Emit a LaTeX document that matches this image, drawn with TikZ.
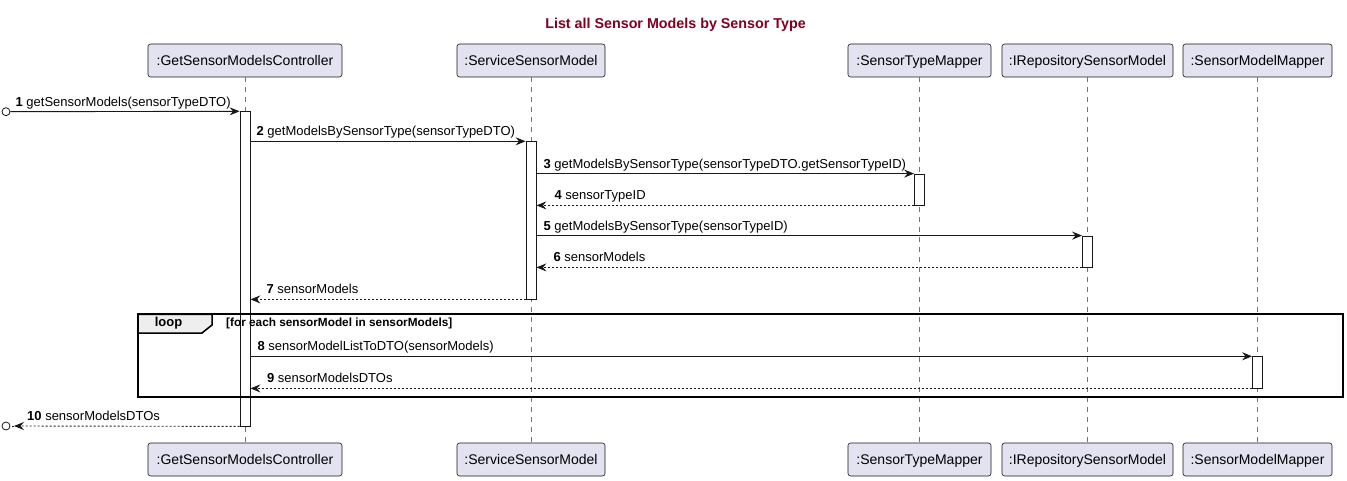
\documentclass[tikz,border=0pt]{standalone}
\usepackage{fontspec}
\setmainfont{Liberation Sans}
\usetikzlibrary{arrows.meta}
\definecolor{partfill}{HTML}{E2E2F0}
\definecolor{linec}{HTML}{181818}
\definecolor{titlec}{HTML}{800020}
\definecolor{tabfill}{HTML}{EEEEEE}
\begin{document}
\begin{tikzpicture}[x=1pt,y=-1pt,
 part/.style={draw=linec, line width=0.6pt, fill=partfill, rounded corners=2.5pt, minimum height=33pt, inner sep=0pt, text height=10pt, text depth=0pt, font=\fontsize{14}{16}\selectfont},
 life/.style={draw=linec!60, line width=0.7pt, dash pattern=on 5pt off 5pt},
 act/.style={draw=linec, line width=0.8pt, fill=white, minimum width=10pt, inner sep=0pt},
 msg/.style={draw=linec, line width=0.9pt, -{Stealth[length=10pt,width=8pt,inset=3.5pt]}},
 ret/.style={msg, dash pattern=on 2pt off 2pt},
 lbl/.style={font=\fontsize{13}{15}\selectfont, anchor=base west, inner sep=0pt},
 endpt/.style={circle, draw=linec, line width=0.8pt, fill=white, minimum size=8pt, inner sep=0pt},
 framebox/.style={draw=black, line width=2pt}
]
\useasboundingbox (0,0) rectangle (1347,481);

% title
\node[font=\fontsize{14.3}{16}\selectfont\bfseries, text=titlec, inner sep=0pt] (title) at (675.5,25) {List all Sensor Models by Sensor Type};

% participants (top and bottom)
\node[part, minimum width=194pt] (A) at (245,60.5) {:GetSensorModelsController};
\node[part, minimum width=148pt] (B) at (531,60.5) {:ServiceSensorModel};
\node[part, minimum width=143pt] (C) at (919.5,60.5) {:SensorTypeMapper};
\node[part, minimum width=171pt] (D) at (1087.5,60.5) {:IRepositorySensorModel};
\node[part, minimum width=149pt] (E) at (1257.5,60.5) {:SensorModelMapper};
\node[part, minimum width=194pt] (Ab) at (245,459.5) {:GetSensorModelsController};
\node[part, minimum width=148pt] (Bb) at (531,459.5) {:ServiceSensorModel};
\node[part, minimum width=143pt] (Cb) at (919.5,459.5) {:SensorTypeMapper};
\node[part, minimum width=171pt] (Db) at (1087.5,459.5) {:IRepositorySensorModel};
\node[part, minimum width=149pt] (Eb) at (1257.5,459.5) {:SensorModelMapper};

% lifelines
\draw[life] (A.south) -- (Ab.north);
\draw[life] (B.south) -- (Bb.north);
\draw[life] (C.south) -- (Cb.north);
\draw[life] (D.south) -- (Db.north);
\draw[life] (E.south) -- (Eb.north);

% activation bars
\node[act, minimum height=314.3pt] (actA) at (245,268.85) {};
\node[act, minimum height=157.3pt] (actB) at (531,220.35) {};
\node[act, minimum height=31pt] (actC) at (919.5,189.5) {};
\node[act, minimum height=31pt] (actD) at (1087.5,251.5) {};
\node[act, minimum height=31.3pt] (actE) at (1257.5,372.35) {};

% found / lost message end points
\node[endpt] (c1) at (6,111.7) {};
\node[endpt] (c2) at (6,426) {};
\coordinate (c2tip) at (14,426);

% messages
\draw[msg] (c1.east) coordinate (m1s) -- (actA.north west);
\node[lbl] at ([shift={(5,-5.5)}]m1s) {\textbf{1} getSensorModels(sensorTypeDTO)};

\draw[msg] (actA.east |- actB.north) coordinate (m2s) -- (actB.north west);
\node[lbl] at ([shift={(6,-5.5)}]m2s) {\textbf{2} getModelsBySensorType(sensorTypeDTO)};

\draw[msg] (actB.east |- actC.north) coordinate (m3s) -- (actC.north west);
\node[lbl] at ([shift={(7,-5.5)}]m3s) {\textbf{3} getModelsBySensorType(sensorTypeDTO.getSensorTypeID)};

\draw[ret] (actC.south west) -- (actB.east |- actC.south) coordinate (m4e);
\node[lbl] at ([shift={(18,-5.5)}]m4e) {\textbf{4} sensorTypeID};

\draw[msg] (actB.east |- actD.north) coordinate (m5s) -- (actD.north west);
\node[lbl] at ([shift={(7,-5.5)}]m5s) {\textbf{5} getModelsBySensorType(sensorTypeID)};

\draw[ret] (actD.south west) -- (actB.east |- actD.south) coordinate (m6e);
\node[lbl] at ([shift={(17,-5.5)}]m6e) {\textbf{6} sensorModels};

\draw[ret] (actB.south west) -- (actA.east |- actB.south) coordinate (m7e);
\node[lbl] at ([shift={(16,-5.5)}]m7e) {\textbf{7} sensorModels};

\draw[msg] (actA.east |- actE.north) coordinate (m8s) -- (actE.north west);
\node[lbl] at ([shift={(7,-5.5)}]m8s) {\textbf{8} sensorModelListToDTO(sensorModels)};

\draw[ret] (actE.south west) -- (actA.east |- actE.south) coordinate (m9e);
\node[lbl] at ([shift={(16.5,-5.5)}]m9e) {\textbf{9} sensorModelsDTOs};

\draw[ret] (actA.south west) -- (c2tip);
\draw[draw=linec, line width=0.9pt, dash pattern=on 2pt off 2pt] (c2tip) -- (c2.east);
\node[lbl] at ([shift={(13,-5.5)}]c2tip) {\textbf{10} sensorModelsDTOs};

% loop frame
\draw[framebox] (138,314.3) rectangle (1342.5,396.7);
\draw[framebox, line width=1.5pt, fill=tabfill] (138,314.3) -- (212,314.3) -- (212,325) -- (202,333) -- (138,333) -- cycle;
\node[font=\fontsize{13}{15}\selectfont\bfseries, inner sep=0pt] (looplbl) at (168.5,323.5) {loop};
\node[font=\fontsize{11.8}{14}\selectfont\bfseries, anchor=west, inner sep=0pt] (guard) at (226,323.5) {[for each sensorModel in sensorModels]};
\end{tikzpicture}
\end{document}
